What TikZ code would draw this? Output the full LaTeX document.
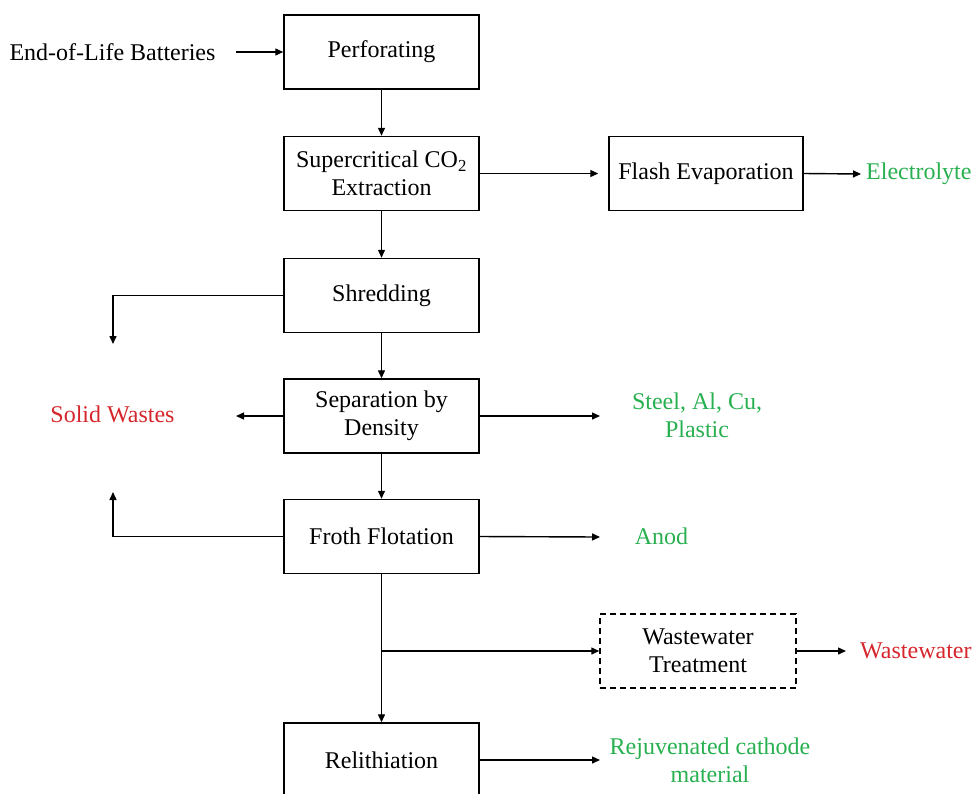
\documentclass[tikz,border=0pt]{standalone}
\usepackage{fontspec}
\setmainfont{Liberation Serif}
\usetikzlibrary{arrows.meta}
\definecolor{outgreen}{RGB}{40,176,80}
\definecolor{wastered}{RGB}{214,38,45}
\begin{document}
\begin{tikzpicture}[x=1pt,y=-1pt,
  font=\fontsize{24}{28}\selectfont,
  box/.style={draw, line width=1.5pt, minimum width=195pt, minimum height=74pt,
              inner sep=2pt, align=center},
  dbox/.style={box, dashed, dash pattern=on 6pt off 4pt, minimum width=196pt},
  arr/.style={line width=1.4pt, -{Triangle[length=8pt,width=7pt]}},
  good/.style={text=outgreen, align=center, inner sep=0pt},
  bad/.style={text=wastered, align=center, inner sep=0pt}]
\useasboundingbox (0,0) rectangle (976,793);

% main process column
\node[box] (perf)  at (381.5,52)    {Perforating};
\node[box] (sco2)  at (381.5,173.5) {Supercritical CO\textsubscript{2}\\Extraction};
\node[box] (shred) at (381.5,295.5) {Shredding};
\node[box] (sep)   at (381.5,416)   {Separation by\\Density};
\node[box] (froth) at (381.5,536.5) {Froth Flotation};
\node[box] (relith) at (381.5,760)  {Relithiation};

% side units
\node[box, minimum width=194pt] (flash) at (706,173.5) {Flash Evaporation};
\node[dbox] (wwt) at (698,651) {Wastewater\\Treatment};

% inputs and products
\node[inner sep=0pt] (eol) at (112.5,52) {End-of-Life Batteries};
\node[good, anchor=west] (elec) at (866,174) {Electrolyte};
\node[bad] (solid) at (112.5,414) {Solid Wastes};
\node[good] (metals) at (697,415) {Steel, Al, Cu,\\Plastic};
\node[good] (anod) at (661.5,536) {Anod};
\node[bad, anchor=west] (wwout) at (860,651) {Wastewater};
\node[good] (cathode) at (710,760) {Rejuvenated cathode\\material};

% free ends of connectors
\coordinate (eolout) at (236,52);
\coordinate (elecin) at (861,174);
\coordinate (swdown) at (113,344);
\coordinate (swleft) at (236,416);
\coordinate (swup) at (113,492);
\coordinate (metin) at (600,416);
\coordinate (anodin) at (600,537);
\coordinate (split) at (381.5,651);
\coordinate (wwin) at (846,651);
\coordinate (cathin) at (600,760);

% main flow
\draw[arr] (eolout) -- (perf.west);
\draw[arr] (perf) -- (sco2);
\draw[arr] (sco2) -- (shred);
\draw[arr] (shred) -- (sep);
\draw[arr] (sep) -- (froth);
\draw[arr] (froth) -- (relith);

% branches
\draw[arr, shorten >=10pt] (sco2.east) -- (flash.west);
\draw[arr] (flash.east) -- (elecin);
\draw[arr] (shred.west) -| (swdown);
\draw[arr] (sep.west) -- (swleft);
\draw[arr] (froth.west) -| (swup);
\draw[arr] (sep.east) -- (metin);
\draw[arr] (froth.east) -- (anodin);
\draw[arr] (split) -- (wwt.west);
\draw[arr] (wwt.east) -- (wwin);
\draw[arr] (relith.east) -- (cathin);
\end{tikzpicture}
\end{document}
